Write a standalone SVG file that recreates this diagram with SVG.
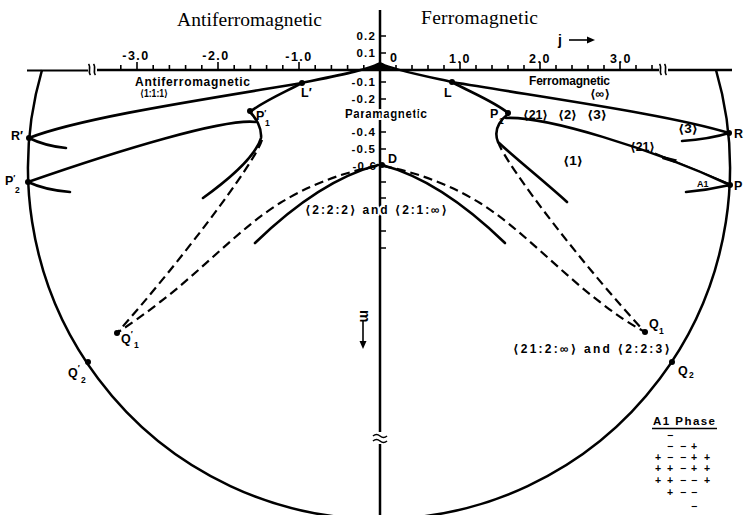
<svg xmlns="http://www.w3.org/2000/svg" width="744" height="515" viewBox="0 0 744 515">
<style>
.ax{stroke:#000;stroke-width:2.5;fill:none}
.cv{stroke:#000;stroke-width:2.6;fill:none;stroke-linecap:round;stroke-linejoin:round}
.ds{stroke:#000;stroke-width:2.2;fill:none;stroke-dasharray:9 5}
.tk{stroke:#000;stroke-width:1.6;fill:none}
.thin{stroke:#000;stroke-width:1.2;fill:none}
.dot{fill:#000}
.b{font-family:"Liberation Sans",Arial,"DejaVu Sans",sans-serif;font-weight:bold;fill:#000}
.br{font-family:"Liberation Sans","DejaVu Sans",sans-serif;font-weight:bold;fill:#000}
.t{font-family:"Liberation Serif","Times New Roman",serif;font-size:19.5px;fill:#000}
.num{font-size:12.5px;letter-spacing:1.5px}
.vn{font-size:11.5px;letter-spacing:1.2px;text-anchor:end}
.lb{font-size:12px}
.pt{font-size:12.5px}
.sub{font-size:8.5px}
.halo{stroke:#fff;stroke-width:4;paint-order:stroke;stroke-linejoin:round}
</style>
<rect width="744" height="515" fill="#fff"/>

<g id="axes">
  <path class="ax" d="M90,70H732"/>
  <path stroke="#000" stroke-width="2" d="M27,70.5H90"/>
  <path class="ax" d="M380,10V515"/>
  <path class="tk" d="M120.8,70v-5M137,70v-8M153.2,70v-5M169.4,70v-5M185.6,70v-5M201.8,70v-5M218,70v-8M234.2,70v-5M250.4,70v-5M266.6,70v-5M282.8,70v-5M299,70v-8M315.2,70v-5M331.4,70v-5M347.6,70v-5M363.8,70v-5M396,70v-5M412,70v-5M428,70v-5M444,70v-5M460,70v-8M476,70v-5M492,70v-5M508,70v-5M524,70v-5M540,70v-8M556,70v-5M572,70v-5M588,70v-5M604,70v-5M620,70v-8M636,70v-5M652,70v-5"/>
  <path class="tk" d="M380,36h6M380,53h6M380,82h6M380,99h6M380,115.5h6M380,132h6M380,149h6M380,165.5h6M380,182h6M380,198h6M380,231h6M380,248h6"/>
  <rect x="88" y="65" width="9" height="10" fill="#fff"/>
  <path class="tk" d="M88.5,64c3,3 -1,8 2,11M93.5,64c3,3 -1,8 2,11"/>
  <rect x="659" y="65" width="9" height="10" fill="#fff"/>
  <path class="tk" d="M659.5,64c3,3 -1,8 2,11M664.5,64c3,3 -1,8 2,11"/>
  <rect x="372" y="432" width="16" height="12" fill="#fff"/>
  <path class="tk" d="M373,436q3.5,-3 7,0t7,0M373,441q3.5,-3 7,0t7,0"/>
  <g class="b num">
    <text x="136" y="60" text-anchor="middle">-3.0</text>
    <text x="216" y="60" text-anchor="middle">-2.0</text>
    <text x="299" y="61" text-anchor="middle">-1.0</text>
    <text x="390" y="62">0</text>
    <text x="460" y="63" text-anchor="middle">1.0</text>
    <text x="540" y="63" text-anchor="middle">2.0</text>
    <text x="621" y="63" text-anchor="middle">3.0</text>
  </g>
  <g class="b vn">
    <text x="376" y="40">0.2</text>
    <text x="376" y="57">0.1</text>
    <text x="376" y="86">-0.1</text>
    <text x="376" y="103">-0.2</text>
    <text x="376" y="136" class="halo">-0.4</text>
    <text x="376" y="153" class="halo">-0.5</text>
    <text x="377" y="170" class="halo">-0.6</text>
  </g>
  <text class="b" x="558" y="45" font-size="14">j</text>
  <path class="tk" d="M569,40H590"/>
  <path d="M595,40l-8,-3.5v7z" fill="#000"/>
  <text class="b" font-size="14" transform="translate(360,310) rotate(90)">m</text>
  <path class="tk" d="M363,321V343"/>
  <path d="M363,349l-3.5,-8h7z" fill="#000"/>
</g>

<g id="titles">
  <text class="t" x="177" y="26" textLength="145">Antiferromagnetic</text>
  <text class="t" x="421" y="24" textLength="117">Ferromagnetic</text>
</g>

<g id="connectors">
  <path class="ax" stroke-width="2.2" d="M42,70A351,351 0 1 0 716,70"/>
  <path d="M360,71Q375,68 380,61Q385,68 400,71Z" fill="#000"/>
  <path class="cv" d="M378,64C370,69 340,75 302,83C200,100 80,118 29,138"/>
  <path class="cv" d="M382,64C390,69 420,75 452,82C560,100 670,115 729,133"/>
  <path class="cv" d="M302,83C285,92 262,102 250,112"/>
  <path class="cv" d="M452,82C470,92 495,102 508,113"/>
  <path class="cv" d="M250,112C256,118 262,128 261,138C255,158 228,180 203,198"/>
  <path class="cv" d="M508,114C498,122 494,132 498,142C515,158 545,182 567,202"/>
  <path class="cv" d="M256,122C225,118 120,150 28,182"/>
  <path class="cv" d="M506,118C545,116 650,148 730,185"/>
  <path class="cv" d="M29,138Q45,146 66,148"/>
  <path class="cv" d="M28,182Q45,190 70,192"/>
  <path class="cv" d="M729,133Q710,139 682,141"/>
  <path class="cv" d="M730,185Q708,190 686,192"/>
  <path class="thin" d="M655,153L728,183"/>
  <path d="M663,156L677,159.5L675,163L662,159Z" fill="#000"/>
  <path class="cv" d="M382,165Q440,180 505,243"/>
  <path class="cv" d="M378,165Q320,180 255,243"/>
  <path class="ds" d="M383,166C425,174 455,188 480,203C520,228 560,272 600,302C615,314 630,324 645,332"/>
  <path class="ds" d="M377,166C335,174 305,188 280,203C240,228 200,272 160,302C145,314 130,324 117,333"/>
  <path class="ds" d="M498,142C506,165 585,268 645,332"/>
  <path class="ds" d="M262,140C254,165 175,268 117,333"/>
</g>

<g id="node-Lp"><circle class="dot" cx="302" cy="83" r="3"/><text class="b pt" x="301" y="97">L′</text></g>
<g id="node-L"><circle class="dot" cx="452" cy="82" r="3"/><text class="b pt" x="444" y="97">L</text></g>
<g id="node-P1p"><circle class="dot" cx="250" cy="111" r="3"/><text class="b pt" x="256" y="120">P<tspan class="sub" dy="-4">′</tspan><tspan class="sub" x="265" dy="10">1</tspan></text></g>
<g id="node-P1"><circle class="dot" cx="508" cy="113" r="3"/><text class="b pt" x="490" y="118">P<tspan class="sub" x="499" dy="6">1</tspan></text></g>
<g id="node-Rp"><circle class="dot" cx="29" cy="138" r="3"/><text class="b pt" x="11" y="140">R′</text></g>
<g id="node-P2p"><circle class="dot" cx="28" cy="182" r="3"/><text class="b pt" x="5" y="185">P<tspan class="sub" dy="-4">′</tspan><tspan class="sub" x="15" dy="12">2</tspan></text></g>
<g id="node-R"><circle class="dot" cx="729" cy="133" r="3"/><text class="b pt" x="734" y="138">R</text></g>
<g id="node-P"><circle class="dot" cx="730" cy="185" r="3"/><text class="b pt" x="734" y="190">P</text></g>
<g id="node-D"><circle class="dot" cx="382" cy="165" r="3"/><text class="b pt" x="388" y="163">D</text></g>
<g id="node-Q1"><circle class="dot" cx="645" cy="332" r="3"/><text class="b pt" x="649" y="328">Q<tspan class="sub" x="659" dy="6">1</tspan></text></g>
<g id="node-Q1p"><circle class="dot" cx="117" cy="333" r="3"/><text class="b pt" x="121" y="343">Q<tspan class="sub" dy="-6">′</tspan><tspan class="sub" x="134" dy="11">1</tspan></text></g>
<g id="node-Q2"><circle class="dot" cx="672" cy="362" r="3"/><text class="b pt" x="678" y="375">Q<tspan class="sub" x="689" dy="3">2</tspan></text></g>
<g id="node-Q2p"><circle class="dot" cx="88" cy="362" r="3"/><text class="b pt" x="68" y="377">Q<tspan class="sub" dy="-6">′</tspan><tspan class="sub" x="81" dy="12">2</tspan></text></g>

<g id="region-labels" class="br">
  <text class="lb" x="135" y="86" textLength="115">Antiferromagnetic</text>
  <text x="140" y="97" font-size="10" textLength="28" lengthAdjust="spacingAndGlyphs">⟨1:1:1⟩</text>
  <text class="lb halo" x="345" y="118" textLength="82">Paramagnetic</text>
  <text class="lb" x="529" y="85" textLength="81">Ferromagnetic</text>
  <text class="lb" x="590" y="98" textLength="20" lengthAdjust="spacingAndGlyphs">⟨∞⟩</text>
  <text class="lb" x="523" y="119" textLength="25" lengthAdjust="spacingAndGlyphs">⟨21⟩</text>
  <text class="lb" x="558" y="119" textLength="19" lengthAdjust="spacingAndGlyphs">⟨2⟩</text>
  <text class="lb" x="587" y="119" textLength="20" lengthAdjust="spacingAndGlyphs">⟨3⟩</text>
  <text class="lb" x="678" y="133" textLength="20" lengthAdjust="spacingAndGlyphs">⟨3⟩</text>
  <text class="lb" x="563" y="165" textLength="20" lengthAdjust="spacingAndGlyphs">⟨1⟩</text>
  <text class="lb" x="630" y="151" textLength="25" lengthAdjust="spacingAndGlyphs">⟨21⟩</text>
  <text x="697" y="187" font-size="9">A1</text>
  <text class="lb halo" x="305" y="214" textLength="142">⟨2:2:2⟩ and ⟨2:1:∞⟩</text>
  <text class="lb" x="513" y="353" textLength="157">⟨21:2:∞⟩ and ⟨2:2:3⟩</text>
</g>

<g id="a1-phase" class="b">
  <text x="653" y="425" font-size="11.5" textLength="62">A1 Phase</text>
  <path stroke="#000" stroke-width="1.5" d="M652,428.5H717"/>
  <g font-size="10.5" text-anchor="middle">
    <text x="670" y="439">−</text>
    <text x="670 683 694" y="450">−−+</text>
    <text x="658 670 683 694 707" y="461">+−−++</text>
    <text x="658 670 683 694 707" y="472">++−++</text>
    <text x="658 670 683 694 707" y="484">++−−+</text>
    <text x="670 683 694" y="496">+−−</text>
    <text x="694" y="510">−</text>
  </g>
</g>
</svg>
